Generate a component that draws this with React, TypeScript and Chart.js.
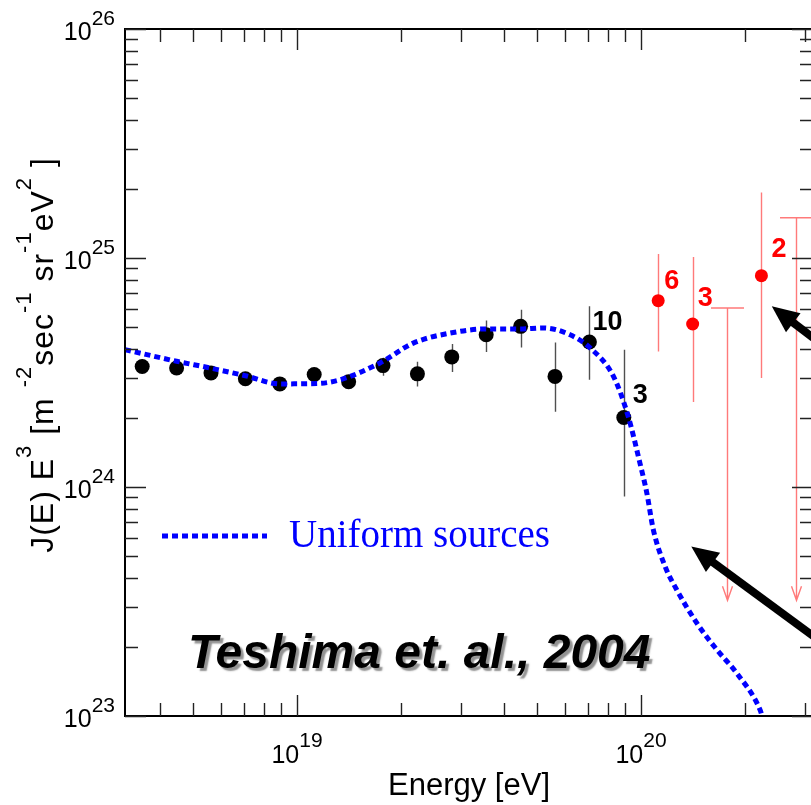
import React, { useEffect, useRef } from "react";
import { Chart, registerables } from "chart.js";

Chart.register(...registerables);

// AGASA spectrum, bin centres in eV and J(E)·E^3 in m^-2 s^-1 sr^-1 eV^2
const agasaEnergy = [
  3.548e18, 4.467e18, 5.623e18, 7.079e18, 8.913e18, 1.122e19, 1.413e19, 1.778e19,
  2.239e19, 2.818e19, 3.548e19, 4.467e19, 5.623e19, 7.079e19, 8.913e19,
];
const agasaFlux = [
  3.36e24, 3.31e24, 3.15e24, 2.97e24, 2.82e24, 3.1e24, 2.88e24, 3.39e24,
  3.12e24, 3.7e24, 4.62e24, 5.03e24, 3.04e24, 4.3e24, 2.01e24,
];
const agasaUpper = [
  3.55e24, 3.5e24, 3.33e24, 3.14e24, 2.98e24, 3.28e24, 3.05e24, 3.67e24,
  3.52e24, 4.21e24, 5.34e24, 5.95e24, 4.28e24, 6.15e24, 3.98e24,
];
const agasaLower = [
  3.17e24, 3.12e24, 2.97e24, 2.8e24, 2.66e24, 2.92e24, 2.72e24, 3.06e24,
  2.75e24, 3.18e24, 3.89e24, 4.07e24, 2.13e24, 2.94e24, 9.08e23,
];

// Highest-energy bins above 10^20 eV
const highEnergy = [1.122e20, 1.413e20, 2.239e20];
const highFlux = [6.51e24, 5.15e24, 8.37e24];
const highUpper = [1.04e25, 1.01e25, 1.93e25];
const highLower = [3.91e24, 2.35e24, 2.99e24];
const highCounts = ["6", "3", "2"];

// Upper limits for empty bins
const limitEnergy = [1.778e20, 2.818e20];
const limitFlux = [6.05e24, 1.5e25];
const limitArrowEnd = 3.2e23;

// Event counts printed next to the last AGASA bins (index into agasaEnergy)
const agasaCountIndex = [13, 14];
const agasaCounts = ["10", "3"];

// Uniform-sources model
const modelEnergy = [
  3.162e18, 4.467e18, 5.585e18, 7.079e18, 8.913e18, 1.14e19, 1.334e19, 1.742e19,
  2.178e19, 2.786e19, 3.556e19, 4.446e19, 5.2e19, 6.223e19, 7.112e19, 8.318e19,
  9.183e19, 9.931e19, 1.04e20, 1.086e20, 1.175e20, 1.27e20, 1.452e20, 1.66e20,
  1.897e20, 2.218e20, 2.249e20,
];
const modelFlux = [
  3.98e24, 3.54e24, 3.31e24, 3.06e24, 2.82e24, 2.83e24, 2.94e24, 3.48e24,
  4.25e24, 4.7e24, 4.9e24, 4.9e24, 4.95e24, 4.62e24, 4.05e24, 3.04e24,
  2.03e24, 1.27e24, 9.4e23, 6.51e23, 4.5e23, 3.56e23, 2.55e23, 1.95e23,
  1.54e23, 1.066e23, 1.0e23,
];

// Pointer arrows: [tailE, tailFlux, tipE, tipFlux]
const pointerArrows = [
  [3.55e20, 1.97e23, 1.4e20, 5.5e23],
  [3.55e20, 3.93e24, 2.4e20, 6.15e24],
];

const xMin = 3.1623e18;
const xMax = 3.1623e20;
const yMin = 1e23;
const yMax = 1e26;
const xDecades = [18, 19, 20];
const yDecades = [23, 24, 25];
const xLabelExp = ["19", "20"];
const yLabelExp = ["23", "24", "25", "26"];

const SANS = '"Liberation Sans", Arial, Helvetica, sans-serif';
const SERIF = '"Liberation Serif", "Times New Roman", Times, serif';

// offsets of count labels from their marker (px)
const agasaCountOffset = [
  [3, -12],
  [9, -15],
];
const highCountOffset = [
  [6, -12],
  [5, -18],
  [10, -19],
];

type Part = { t: string; sup?: boolean };

function drawRich(
  ctx: CanvasRenderingContext2D,
  parts: Part[],
  x: number,
  y: number,
  align: "left" | "center" | "right",
  base: number,
  sup: number,
  raise: number
) {
  const widths = parts.map((p) => {
    ctx.font = `${p.sup ? sup : base}px ${SANS}`;
    return ctx.measureText(p.t).width;
  });
  const total = widths.reduce((a, b) => a + b, 0);
  let cx = align === "left" ? x : align === "center" ? x - total / 2 : x - total;
  ctx.textAlign = "left";
  ctx.textBaseline = "alphabetic";
  parts.forEach((p, i) => {
    ctx.font = `${p.sup ? sup : base}px ${SANS}`;
    ctx.fillText(p.t, cx, p.sup ? y - raise : y);
    cx += widths[i];
  });
}

const framePlugin = {
  id: "frame",
  beforeDatasetsDraw(chart: any) {
    const { ctx, scales } = chart;
    const xs = scales.x;
    const ys = scales.y;
    ctx.save();
    ctx.lineWidth = 1.4;
    // AGASA error bars
    ctx.strokeStyle = "#505050";
    ctx.beginPath();
    agasaEnergy.forEach((e, i) => {
      const px = Math.round(xs.getPixelForValue(e)) + 0.5;
      ctx.moveTo(px, ys.getPixelForValue(agasaUpper[i]));
      ctx.lineTo(px, ys.getPixelForValue(agasaLower[i]));
    });
    ctx.stroke();
    // high-energy error bars and upper limits
    ctx.strokeStyle = "#ff7a7a";
    ctx.beginPath();
    highEnergy.forEach((e, i) => {
      const px = Math.round(xs.getPixelForValue(e)) + 0.5;
      ctx.moveTo(px, ys.getPixelForValue(highUpper[i]));
      ctx.lineTo(px, ys.getPixelForValue(highLower[i]));
    });
    limitEnergy.forEach((e, i) => {
      const px = Math.round(xs.getPixelForValue(e)) + 0.5;
      const top = ys.getPixelForValue(limitFlux[i]);
      const tip = ys.getPixelForValue(limitArrowEnd);
      ctx.moveTo(px - 16.5, top);
      ctx.lineTo(px + 16.5, top);
      ctx.moveTo(px, top);
      ctx.lineTo(px, tip);
      ctx.moveTo(px - 5, tip - 14);
      ctx.lineTo(px, tip);
      ctx.lineTo(px + 5, tip - 14);
    });
    ctx.stroke();
    ctx.restore();
  },
  afterDatasetsDraw(chart: any) {
    const { ctx, scales, chartArea: a } = chart;
    const xs = scales.x;
    const ys = scales.y;
    ctx.save();

    // frame
    ctx.strokeStyle = "#000";
    ctx.lineWidth = 2;
    ctx.strokeRect(a.left, a.top, a.right - a.left, a.bottom - a.top);

    // ticks, pointing inwards on all four sides
    ctx.lineWidth = 1.4;
    ctx.strokeStyle = "#222";
    ctx.beginPath();
    const yTickVals: number[] = [];
    yDecades.forEach((d) => {
      for (let k = 1; k <= 9; k++) yTickVals.push(k * Math.pow(10, d));
    });
    yTickVals.push(yMax);
    yTickVals.forEach((v) => {
      const py = Math.round(ys.getPixelForValue(v)) + 0.5;
      const m = Math.abs(Math.log10(v) - Math.round(Math.log10(v))) < 1e-9;
      const len = m ? 21 : 13;
      ctx.moveTo(a.left, py);
      ctx.lineTo(a.left + len, py);
      ctx.moveTo(a.right, py);
      ctx.lineTo(a.right - len, py);
    });
    xDecades.forEach((d) => {
      for (let k = 1; k <= 9; k++) {
        const v = k * Math.pow(10, d);
        if (v < xMin || v > xMax) continue;
        const px = Math.round(xs.getPixelForValue(v)) + 0.5;
        const len = k === 1 ? 21 : 13;
        ctx.moveTo(px, a.bottom);
        ctx.lineTo(px, a.bottom - len);
        ctx.moveTo(px, a.top);
        ctx.lineTo(px, a.top + len);
      }
    });
    ctx.stroke();

    // tick labels
    ctx.fillStyle = "#000";
    xLabelExp.forEach((ex) => {
      const px = xs.getPixelForValue(Math.pow(10, Number(ex)));
      drawRich(ctx, [{ t: "10" }, { t: ex, sup: true }], px, a.bottom + 47, "center", 25, 21, 16);
    });
    yLabelExp.forEach((ex) => {
      const py = ys.getPixelForValue(Math.pow(10, Number(ex)));
      drawRich(ctx, [{ t: "10" }, { t: ex, sup: true }], a.left - 10, py + 11, "right", 25, 21, 15);
    });

    // axis titles
    ctx.font = `31px ${SANS}`;
    ctx.textAlign = "center";
    ctx.fillText("Energy [eV]", (a.left + a.right) / 2, a.bottom + 79);

    ctx.save();
    ctx.translate(53, 355);
    ctx.rotate(-Math.PI / 2);
    (ctx as any).letterSpacing = "1px";
    drawRich(
      ctx,
      [
        { t: "J(E) E" },
        { t: "3", sup: true },
        { t: " [m " },
        { t: "-2", sup: true },
        { t: "sec" },
        { t: "-1", sup: true },
        { t: " sr" },
        { t: "-1", sup: true },
        { t: "eV" },
        { t: "2", sup: true },
        { t: " ]" },
      ],
      0,
      0,
      "center",
      32,
      22,
      22
    );
    (ctx as any).letterSpacing = "0px";
    ctx.restore();

    // event counts
    ctx.font = `bold 27px ${SANS}`;
    ctx.textAlign = "left";
    ctx.fillStyle = "#000";
    agasaCountIndex.forEach((idx, i) => {
      const px = xs.getPixelForValue(agasaEnergy[idx]);
      const py = ys.getPixelForValue(agasaFlux[idx]);
      ctx.fillText(agasaCounts[i], px + agasaCountOffset[i][0], py + agasaCountOffset[i][1]);
    });
    ctx.fillStyle = "#ff0000";
    highEnergy.forEach((e, i) => {
      const px = xs.getPixelForValue(e);
      const py = ys.getPixelForValue(highFlux[i]);
      ctx.fillText(highCounts[i], px + highCountOffset[i][0], py + highCountOffset[i][1]);
    });

    // legend for the model curve
    ctx.strokeStyle = "#0000ff";
    ctx.lineWidth = 5;
    ctx.setLineDash([6, 4]);
    ctx.beginPath();
    ctx.moveTo(a.left + 37, 536);
    ctx.lineTo(a.left + 142, 536);
    ctx.stroke();
    ctx.setLineDash([]);
    ctx.fillStyle = "#0000ff";
    ctx.font = `39px ${SERIF}`;
    ctx.fillText("Uniform sources", a.left + 164, 547);

    // reference caption with drop shadow
    ctx.save();
    ctx.shadowColor = "rgba(110,110,110,0.75)";
    ctx.shadowOffsetX = 3;
    ctx.shadowOffsetY = 3;
    ctx.shadowBlur = 1.5;
    ctx.fillStyle = "#000";
    ctx.font = `italic bold 48px ${SANS}`;
    ctx.fillText("Teshima et. al., 2004", a.left + 63, 668);
    ctx.restore();

    // pointer arrows
    ctx.fillStyle = "#000";
    ctx.strokeStyle = "#000";
    pointerArrows.forEach(([te, tf, he, hf]) => {
      const x0 = xs.getPixelForValue(te);
      const y0 = ys.getPixelForValue(tf);
      const x1 = xs.getPixelForValue(he);
      const y1 = ys.getPixelForValue(hf);
      const ang = Math.atan2(y1 - y0, x1 - x0);
      const headLen = 27;
      const headHalf = 12;
      const bx = x1 - headLen * Math.cos(ang);
      const by = y1 - headLen * Math.sin(ang);
      ctx.lineWidth = 8;
      ctx.beginPath();
      ctx.moveTo(x0, y0);
      ctx.lineTo(bx + 4 * Math.cos(ang), by + 4 * Math.sin(ang));
      ctx.stroke();
      ctx.beginPath();
      ctx.moveTo(x1, y1);
      ctx.lineTo(bx + headHalf * Math.sin(ang), by - headHalf * Math.cos(ang));
      ctx.lineTo(bx - headHalf * Math.sin(ang), by + headHalf * Math.cos(ang));
      ctx.closePath();
      ctx.fill();
    });

    ctx.restore();
  },
};

export default function App() {
  const ref = useRef<HTMLCanvasElement>(null);

  useEffect(() => {
    if (!ref.current) return;
    const chart = new Chart(ref.current, {
      type: "scatter",
      data: {
        datasets: [
          {
            label: "Uniform sources",
            data: modelEnergy.map((e, i) => ({ x: e, y: modelFlux[i] })),
            showLine: true,
            borderColor: "#0000ff",
            borderWidth: 5,
            borderDash: [6, 4],
            pointRadius: 0,
            fill: false,
            cubicInterpolationMode: "monotone",
          } as any,
          {
            label: "AGASA",
            data: agasaEnergy.map((e, i) => ({ x: e, y: agasaFlux[i] })),
            pointRadius: 7.5,
            pointBackgroundColor: "#000",
            pointBorderWidth: 0,
          },
          {
            label: "AGASA > 1e20",
            data: highEnergy.map((e, i) => ({ x: e, y: highFlux[i] })),
            pointRadius: 6.5,
            pointBackgroundColor: "#ff0000",
            pointBorderWidth: 0,
          },
        ],
      },
      options: {
        responsive: false,
        animation: false,
        devicePixelRatio: 1,
        layout: { padding: { left: 125, top: 29, right: 17, bottom: 89 } },
        scales: {
          x: { type: "logarithmic", min: xMin, max: xMax, display: false },
          y: { type: "logarithmic", min: yMin, max: yMax, display: false },
        },
        plugins: {
          legend: { display: false },
          tooltip: { enabled: false },
        },
      },
      plugins: [framePlugin],
    });
    return () => chart.destroy();
  }, []);

  return (
    <div
      style={{
        position: "fixed",
        left: 0,
        top: 0,
        width: 811,
        height: 805,
        overflow: "hidden",
        background: "#fff",
      }}
    >
      <canvas ref={ref} width={830} height={805} style={{ display: "block", width: 830, height: 805 }} />
    </div>
  );
}
